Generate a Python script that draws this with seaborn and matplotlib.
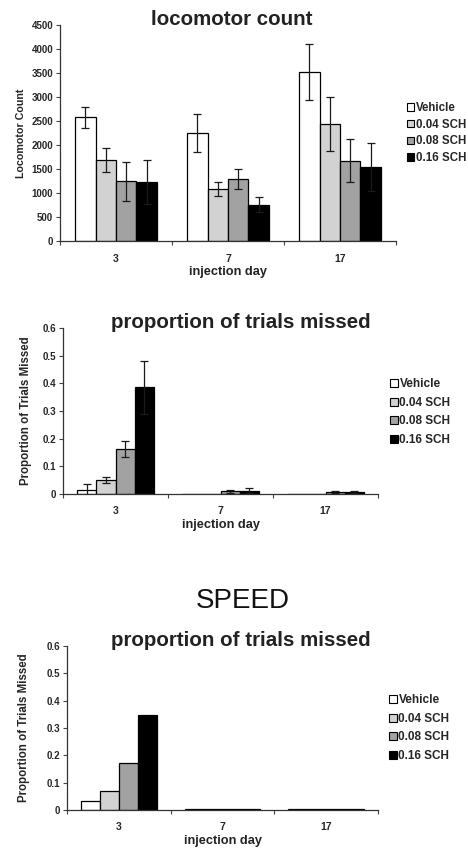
import matplotlib
matplotlib.use("Agg")
import matplotlib.pyplot as plt
import numpy as np
import pandas as pd
import seaborn as sns
from matplotlib.patches import Patch

sns.set_theme(style="white")
plt.rcParams["font.family"] = ["Liberation Sans", "DejaVu Sans"]

days = ["3", "7", "17"]
groups = ["Vehicle", "0.04 SCH", "0.08 SCH", "0.16 SCH"]
colors = ["#ffffff", "#d2d2d2", "#a2a2a2", "#000000"]

# locomotor count, rows = group, cols = day
loco_mean = [[2580, 2250, 3520],
             [1680, 1080, 2440],
             [1240, 1290, 1670],
             [1230, 760, 1550]]
loco_err = [[220, 400, 590],
            [250, 150, 560],
            [400, 200, 450],
            [450, 160, 500]]

# proportion of trials missed
miss_mean = [[0.015, 0.0, 0.0],
             [0.050, 0.0, 0.0],
             [0.163, 0.010, 0.008],
             [0.385, 0.012, 0.008]]
miss_err = [[0.020, 0.0, 0.0],
            [0.012, 0.0, 0.0],
            [0.030, 0.005, 0.004],
            [0.097, 0.010, 0.004]]

# SPEED: proportion of trials missed (no error bars)
speed_mean = [[0.033, 0.003, 0.003],
              [0.070, 0.003, 0.003],
              [0.173, 0.003, 0.003],
              [0.347, 0.003, 0.003]]


def to_df(mean):
    rows = []
    for g, vals in zip(groups, mean):
        for d, v in zip(days, vals):
            rows.append({"day": d, "group": g, "value": v})
    return pd.DataFrame(rows)


W, H = 468, 852
fig = plt.figure(figsize=(W / 100, H / 100), dpi=100)


def px_axes(left, right, top, bottom):
    return fig.add_axes([left / W, 1 - bottom / H, (right - left) / W, (bottom - top) / H])


def panel(ax, mean, err, ylim, yticks, ylabel, ylabel_size, ylabel_x, title, title_x,
          leg_y, leg_x, leg_sp, leg_size):
    df = to_df(mean)
    sns.barplot(data=df, x="day", y="value", hue="group", order=days, hue_order=groups,
                palette=colors, width=0.73, errorbar=None, edgecolor="black",
                linewidth=0.9, legend=False, ax=ax)
    if err is not None:
        # patches come out group by group, day by day
        bars = ax.patches[:len(groups) * len(days)]
        xs = [b.get_x() + b.get_width() / 2 for b in bars]
        ys = [b.get_height() for b in bars]
        es = [e for row in err for e in row]
        for x, y, e in zip(xs, ys, es):
            if e > 0:
                ax.errorbar(x, y, yerr=e, fmt="none", ecolor="#1a1a1a", elinewidth=0.9,
                            capsize=3, capthick=0.9, zorder=5)
    ax.set_xlim(-0.5, 2.5)
    ax.set_ylim(*ylim)
    ax.set_yticks(yticks)
    ax.set_yticklabels(["0" if t == 0 else f"{t:g}" for t in yticks],
                       fontsize=7, fontweight="bold")
    ax.set_xticks([0, 1, 2])
    ax.set_xticklabels(days, fontsize=7.5, fontweight="bold")
    ax.set_xticks([-0.5, 0.5, 1.5, 2.5], minor=True)
    ax.tick_params(axis="x", which="major", length=0, pad=9)
    ax.tick_params(axis="x", which="minor", length=3, width=0.8, color="#444444",
                   direction="out", bottom=True)
    ax.tick_params(axis="y", length=3, width=0.8, color="#444444", direction="out",
                   left=True, pad=2)
    for s in ["top", "right"]:
        ax.spines[s].set_visible(False)
    for s in ["left", "bottom"]:
        ax.spines[s].set_color("#333333")
        ax.spines[s].set_linewidth(0.9)
    ax.set_xlabel("injection day", fontsize=9.2, fontweight="bold", color="#222222",
                  labelpad=2)
    ax.set_ylabel(ylabel, fontsize=ylabel_size, fontweight="bold")
    ax.yaxis.set_label_coords(ylabel_x, 0.5)
    ax.text(title_x, 1.0, title, transform=ax.transAxes, ha="center", va="baseline",
            fontsize=14.8, fontweight="bold", color="#222222")
    handles = [Patch(facecolor=c, edgecolor="black", linewidth=0.8) for c in colors]
    fig.legend(handles, groups, loc="center left",
               bbox_to_anchor=(leg_x / W, 1 - leg_y / H), frameon=False,
               prop={"size": leg_size, "weight": "bold"}, handlelength=0.65,
               handleheight=0.65, handletextpad=0.15, labelspacing=leg_sp, borderpad=0,
               borderaxespad=0)


ax1 = px_axes(60, 396, 25, 241)
panel(ax1, loco_mean, loco_err, (0, 4500), list(range(0, 4501, 500)), "Locomotor Count",
      7.7, (26 - 60) / 336, "locomotor count", 0.51, 133, 407, 0.42, 8.3)

yt = [0, 0.1, 0.2, 0.3, 0.4, 0.5, 0.6]
ax2 = px_axes(63, 378, 328, 494)
panel(ax2, miss_mean, miss_err, (0, 0.6), yt, "Proportion of Trials Missed",
      8.3, (32 - 63) / 315, "proportion of trials missed", 0.565, 412, 390, 0.55, 8.5)

fig.text(243 / W, 1 - 608 / H, "SPEED", ha="center", va="baseline", fontsize=20,
         color="#111111")

ax3 = px_axes(67, 378, 646, 810)
panel(ax3, speed_mean, None, (0, 0.6), yt, "Proportion of Trials Missed",
      8.3, (30 - 67) / 311, "proportion of trials missed", 0.56, 728, 389, 0.55, 8.5)

fig.savefig("out.png", dpi=100, facecolor="white")
